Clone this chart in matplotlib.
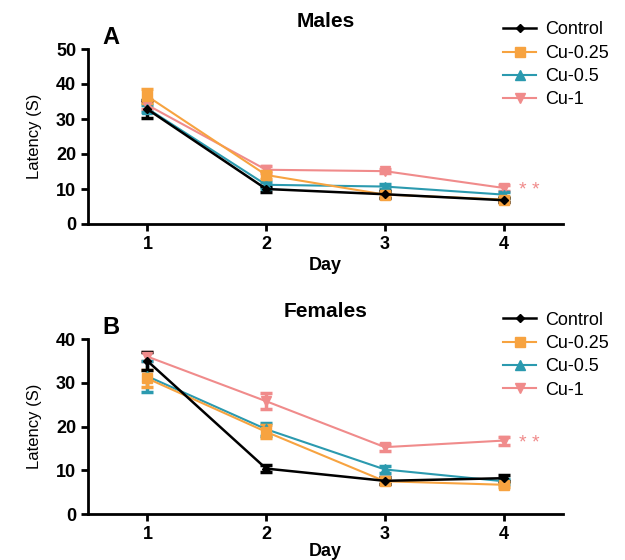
import matplotlib
matplotlib.use("Agg")
import matplotlib.pyplot as plt

# dados
days = [1, 2, 3, 4]
groups = ["Control", "Cu-0.25", "Cu-0.5", "Cu-1"]

males_control = [32.8, 10.0, 8.5, 6.8]
males_cu025 = [36.5, 14.0, 8.4, 7.0]
males_cu05 = [33.0, 11.2, 10.7, 8.4]
males_cu1 = [34.0, 15.5, 15.1, 10.3]
males_err_control = [2.5, 0.9, 1.0, 0.6]
males_err_cu025 = [2.0, 1.2, 0.8, 0.6]
males_err_cu05 = [1.0, 0.8, 0.8, 0.7]
males_err_cu1 = [1.0, 1.0, 0.5, 0.8]

females_control = [35.0, 10.4, 7.6, 8.2]
females_cu025 = [31.0, 18.8, 7.5, 6.7]
females_cu05 = [31.5, 19.4, 10.2, 7.5]
females_cu1 = [36.0, 25.8, 15.3, 16.8]
females_err_control = [2.0, 0.8, 0.8, 0.7]
females_err_cu025 = [2.0, 1.5, 0.6, 0.6]
females_err_cu05 = [3.5, 1.5, 0.8, 0.6]
females_err_cu1 = [1.0, 1.8, 0.8, 0.9]

cores = {"Control": "black", "Cu-0.25": "#F7A340", "Cu-0.5": "#2B9AAF", "Cu-1": "#F08B8B"}
marcadores = {"Control": "D", "Cu-0.25": "s", "Cu-0.5": "^", "Cu-1": "v"}
tamanhos = {"Control": 4, "Cu-0.25": 7, "Cu-0.5": 7, "Cu-1": 7}

fonte = "Liberation Sans"


def painel(ax, series, erros, ymax, titulo, letra, pad_day=3):
    for g in ["Cu-1", "Cu-0.5", "Cu-0.25", "Control"]:
        ax.errorbar(days, series[g], yerr=erros[g], color=cores[g], marker=marcadores[g],
                    markersize=tamanhos[g], lw=1.8 if g == "Control" else 1.5,
                    elinewidth=2.5, capsize=4, capthick=2.5, label=g)
    ax.set_xlim(0.5, 4.5)
    ax.set_ylim(0, ymax)
    ax.set_yticks(range(0, ymax + 1, 10))
    ax.set_xticks(days)
    for s in ["top", "right"]:
        ax.spines[s].set_visible(False)
    for s in ["left", "bottom"]:
        ax.spines[s].set_linewidth(2)
    ax.tick_params(width=2, length=5, labelsize=13)
    for lab in ax.get_xticklabels() + ax.get_yticklabels():
        lab.set_fontweight("bold")
        lab.set_family(fonte)
    ax.set_xlabel("Day", fontsize=13, fontweight="bold", family=fonte, labelpad=pad_day)
    ax.set_ylabel("Latency (S)", fontsize=12, family=fonte, labelpad=10)
    ax.set_title(titulo, fontsize=15, fontweight="bold", family=fonte, pad=16)
    ax.text(0.03, 1.0, letra, transform=ax.transAxes, fontsize=17, fontweight="bold",
            family=fonte, va="bottom")
    ax.text(4.13, series["Cu-1"][3] - ymax * 0.015, "* *", color=cores["Cu-1"], fontsize=14,
            va="center", family=fonte)
    h, l = ax.get_legend_handles_labels()
    ordem = [l.index(g) for g in groups]
    ax.legend([h[i][0] for i in ordem], [l[i] for i in ordem], loc="upper left",
              bbox_to_anchor=(0.84, 1.25), frameon=False, handlelength=1.8,
              handletextpad=0.5, labelspacing=0.35, prop={"family": fonte, "size": 13})


fig = plt.figure(figsize=(6.25, 5.6), dpi=100)
ax1 = fig.add_axes([0.1408, 0.6, 0.76, 0.3125])
ax2 = fig.add_axes([0.1408, 0.082, 0.76, 0.3125])

painel(ax1,
       {"Control": males_control, "Cu-0.25": males_cu025, "Cu-0.5": males_cu05, "Cu-1": males_cu1},
       {"Control": males_err_control, "Cu-0.25": males_err_cu025, "Cu-0.5": males_err_cu05, "Cu-1": males_err_cu1},
       50, "Males", "A")
painel(ax2,
       {"Control": females_control, "Cu-0.25": females_cu025, "Cu-0.5": females_cu05, "Cu-1": females_cu1},
       {"Control": females_err_control, "Cu-0.25": females_err_cu025, "Cu-0.5": females_err_cu05, "Cu-1": females_err_cu1},
       40, "Females", "B", pad_day=0)

fig.savefig("out.png", dpi=100)
